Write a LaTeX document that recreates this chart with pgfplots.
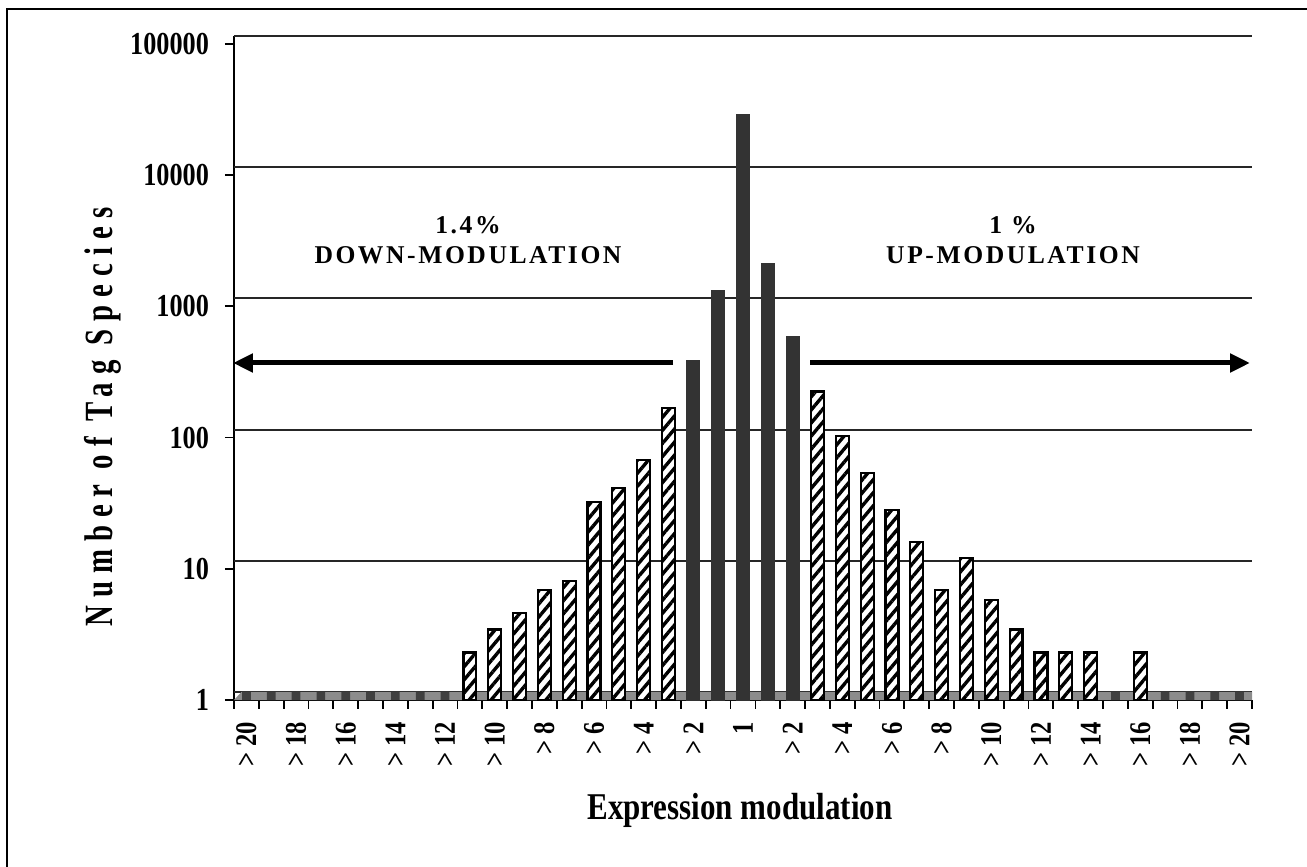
\documentclass[border=0pt]{standalone}
\usepackage{fontspec}
\setmainfont{Liberation Serif}
\newfontfamily\narrowserif[FakeStretch=0.82]{Liberation Serif}
\newfontfamily\ylabfont[FakeStretch=0.72,LetterSpace=20]{Liberation Serif}
\newfontfamily\notefont[LetterSpace=10]{Liberation Serif}
\usepackage{pgfplots}
\pgfplotsset{compat=1.18}
\usetikzlibrary{patterns.meta,arrows.meta}

\begin{document}
\begin{tikzpicture}
\path[use as bounding box] (-117pt,-83.5pt) rectangle (536.5pt,350pt);
\draw[line width=1pt] (-113.5pt,-83.5pt) -- (-113.5pt,345.5pt) -- (536.5pt,345.5pt);
\begin{axis}[
    scale only axis, width=509pt, height=332pt,
    ymode=log, log origin=infty,
    xmin=-20.5, xmax=20.5, ymin=0.869, ymax=100000,
    axis x line=bottom, axis y line=left,
    axis line style={-, line width=0.9pt},
    tick align=outside, tick style={black, line width=0.9pt},
    xtick={-20.5,-19.5,...,20.5}, xticklabels={},
    major tick length=4.5pt,
    extra x ticks={-20,-18,...,20},
    extra x tick labels={> 20,> 18,> 16,> 14,> 12,> 10,> 8,> 6,> 4,> 2,1,> 2,> 4,> 6,> 8,> 10,> 12,> 14,> 16,> 18,> 20},
    extra x tick style={major tick length=0pt},
    xticklabel style={rotate=90, anchor=east, xshift=-7.5pt, font=\narrowserif\bfseries\fontsize{15}{15}\selectfont},
    ytick={0.869,8.69,86.9,869,8690,86900},
    yticklabels={1,10,100,1000,10000,100000},
    yminorticks=false,
    yticklabel style={xshift=-4.5pt, font=\narrowserif\bfseries\fontsize{16}{16}\selectfont},
    extra y ticks={1,10,100,1000,10000,100000},
    extra y tick labels={},
    extra y tick style={grid=major, major tick length=0pt},
    major grid style={line width=1pt, black!85},
    xlabel={Expression modulation},
    xlabel style={at={(axis description cs:0.497,-0.166)}, anchor=center, font=\narrowserif\bfseries\fontsize{18.9}{20}\selectfont},
    ylabel={Number of Tag Species},
    ylabel style={at={(axis description cs:-0.129,0.426)}, anchor=center, font=\ylabfont\bfseries\fontsize{20}{20}\selectfont},
]
% floor
\fill[black!45] (axis cs:-20.5,0.869) -- (axis cs:-20.2,1) -- (axis cs:20.5,1) -- (axis cs:20.5,0.869) -- cycle;

% significant modulation (hatched)
\addplot[ybar, bar width=0.52, draw=black, line width=1.1pt,
    preaction={fill=white}, pattern={Lines[angle=50,distance=4.2pt,line width=1.7pt]}, pattern color=black]
coordinates {
    (-11,2) (-10,3) (-9,4) (-8,6) (-7,7) (-6,28) (-5,36) (-4,59) (-3,147)
    (3,195) (4,90) (5,47) (6,24.5) (7,14) (8,6) (9,10.5) (10,5) (11,3)
    (12,2) (13,2) (14,2) (16,2)
};

% central classes (solid)
\addplot[ybar, bar width=0.52, fill=black!80, draw=black!80]
coordinates {
    (-2,336) (-1,1150) (0,25400) (1,1850) (2,513)
};

% classes with a single tag species
\addplot[ybar, bar width=0.35, fill=black!75, draw=none]
coordinates {
    (-20,1) (-19,1) (-18,1) (-17,1) (-16,1) (-15,1) (-14,1) (-13,1) (-12,1)
    (15,1) (17,1) (18,1) (19,1) (20,1)
};
\end{axis}

\node[font=\notefont\bfseries\fontsize{12.8}{15}\selectfont, align=center] at (117pt,230pt) {1.4\%\\DOWN-MODULATION};
\node[font=\notefont\bfseries\fontsize{12.8}{15}\selectfont, align=center] at (389.5pt,230pt) {1 \%\\UP-MODULATION};
\draw[line width=2.5pt, -{Triangle[length=10pt,width=9pt]}] (219.5pt,168.5pt) -- (-0.5pt,168.5pt);
\draw[line width=2.5pt, -{Triangle[length=10pt,width=9pt]}] (288pt,168.5pt) -- (508pt,168.5pt);
\end{tikzpicture}
\end{document}
